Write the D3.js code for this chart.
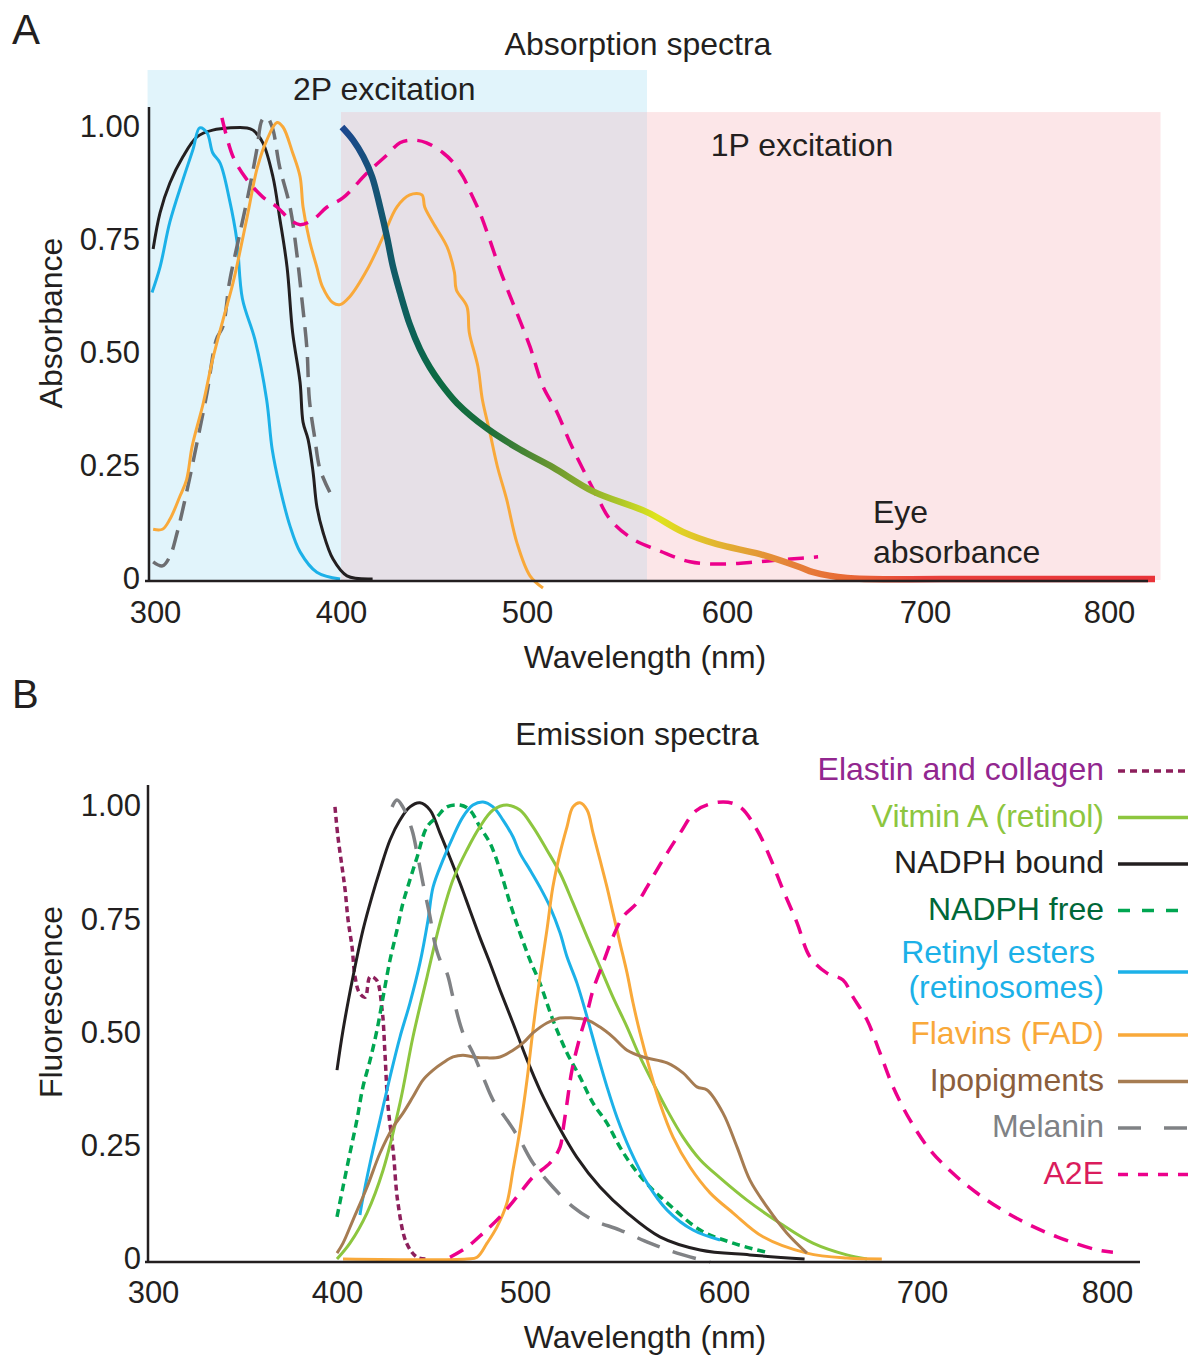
<!DOCTYPE html>
<html>
<head>
<meta charset="utf-8">
<script src="https://cdn.jsdelivr.net/npm/d3@7/dist/d3.min.js"></script>
<style>
body { margin: 0; background: #fff; }
text { font-family: "Liberation Sans", Arial, Helvetica, sans-serif; fill: #231f20; }
</style>
</head>
<body>
<div id="container"></div>
<script>
var w = 1199;
var h = 1357;

// ---- data (wavelength nm, value) ----
var ticksX = [300, 400, 500, 600, 700, 800];
var ticksY = [0, 0.25, 0.5, 0.75, 1];

// panel A regions: [from nm, to nm, top absorbance]
var region2P = [296, 560, 1.126];
var region1P = [560, 828, 1.033];
var regionBoth = [400, 560, 1.033];

var absNadph = [[299,0.73],[302.7,0.81],[308,0.876],[315,0.934],[322.6,0.978],[331,0.993],[349.5,0.998],[352.7,0.993],[358,0.965],[363.4,0.89],[367,0.80],[371,0.69],[374,0.545],[378,0.435],[379.6,0.347],[382.3,0.309],[385,0.236],[387,0.161],[390.3,0.104],[395.7,0.044],[403.2,0.007],[417,0]];
var absRetinol = [[298.4,0.634],[302.7,0.69],[308,0.79],[315,0.883],[320.4,0.95],[324,0.998],[328,0.987],[331,0.943],[335,0.92],[340,0.84],[344,0.75],[347,0.62],[353.7,0.53],[360,0.397],[363,0.287],[367,0.205],[372.6,0.117],[378,0.06],[387,0.015],[399.5,0]];
var absGray = [[299,0.038],[304,0.029],[308,0.05],[312,0.104],[317,0.192],[322.6,0.302],[328,0.413],[333,0.53],[336.6,0.56],[340,0.656],[345.7,0.766],[351,0.868],[355,0.956],[357.5,1.015],[360,1.022],[363,1.0],[367,0.912],[372.6,0.823],[376,0.728],[379,0.618],[381.7,0.508],[383,0.397],[386,0.309],[388.7,0.243],[394,0.192]];
var absFad = [[299,0.11],[304,0.11],[308,0.132],[313.4,0.183],[317,0.22],[320,0.294],[326,0.39],[331,0.486],[336.6,0.574],[342,0.656],[349.5,0.80],[355,0.91],[360,0.97],[365.6,1.01],[368.8,1.0],[374,0.943],[378,0.89],[379.6,0.823],[383,0.75],[387,0.69],[390,0.647],[395.7,0.611],[399.5,0.607],[404.8,0.625],[414,0.684],[422.6,0.757],[430,0.823],[437,0.85],[443.5,0.85],[445,0.823],[449.5,0.788],[457,0.735],[461,0.678],[462,0.64],[467.7,0.603],[469,0.545],[473.6,0.47],[476,0.397],[480,0.325],[484,0.25],[489,0.177],[494.6,0.08],[501.5,0.007],[508,-0.02]];
var absA2e = [[336,1.02],[342,0.934],[349.5,0.883],[358,0.845],[365.6,0.823],[372.6,0.795],[378,0.784],[385,0.795],[392.5,0.823],[401,0.843],[414,0.898],[424.7,0.938],[431.7,0.965],[438.7,0.971],[446,0.965],[454.8,0.943],[460,0.923],[465.6,0.89],[469,0.861],[474.7,0.81],[480,0.75],[485.5,0.684],[491,0.625],[496,0.574],[501.5,0.514],[508,0.426],[515,0.369],[521.5,0.302],[528,0.243],[535,0.183],[541.5,0.132],[553,0.088],[566.5,0.062],[581.5,0.038],[598,0.033],[615,0.038],[632,0.044],[646,0.049]];
var absEye = [[400.5,1.0],[406.5,0.971],[412,0.934],[416.7,0.89],[421,0.823],[424.7,0.757],[428,0.69],[431.7,0.634],[437,0.563],[442.5,0.508],[447.8,0.468],[453.2,0.435],[462.4,0.389],[478.5,0.333],[496,0.287],[513,0.247],[533,0.194],[560,0.148],[578,0.104],[595,0.077],[616.7,0.055],[636.9,0.026],[643.5,0.015],[660.7,0.002],[711.9,0],[825,0]];
var eyeStopNm = [400, 425, 450, 480, 515, 545, 565, 597, 632, 660, 700, 825];
var eyeStopColor = ["#1d4690", "#12586c", "#0a6a44", "#1c6e3a", "#6f9a2f", "#aac52a", "#dfe41d", "#e2b231", "#e5823a", "#e86a35", "#e9403b", "#e93339"];

var emElastin = [[398.9,0.998],[400.5,0.932],[402.7,0.865],[404.3,0.815],[405.9,0.748],[408,0.689],[409.6,0.623],[412,0.587],[415,0.578],[417.6,0.623],[421,0.616],[424,0.55],[425.5,0.455],[427,0.344],[430,0.234],[432.4,0.124],[437,0.035],[442.6,0.004],[448,0]];
var emRetinol = [[400,0],[406.9,0.035],[416,0.102],[424.5,0.196],[433.5,0.344],[440.4,0.49],[447.9,0.623],[454.8,0.742],[461.7,0.837],[469.1,0.903],[476,0.954],[483,0.991],[490.4,1.002],[497.3,0.991],[504,0.954],[511,0.903],[517.6,0.852],[524.1,0.786],[531.2,0.711],[537.7,0.645],[544.2,0.578],[551.3,0.512],[557.8,0.446],[564.3,0.389],[571.4,0.329],[579.4,0.269],[588,0.219],[598,0.179],[611.6,0.13],[628.3,0.079],[644.9,0.035],[662,0.009],[672.2,0]];
var emNadphBound = [[400,0.417],[403.2,0.505],[408.5,0.623],[413.8,0.726],[418.6,0.8],[422.9,0.859],[428.2,0.925],[433.5,0.969],[438.8,0.998],[444.1,1.007],[449.5,0.991],[454.8,0.94],[460,0.887],[465.4,0.83],[470.7,0.77],[476,0.71],[481.4,0.653],[486.7,0.594],[493.6,0.521],[501,0.44],[507.5,0.373],[516,0.3],[526,0.225],[537.7,0.159],[551.3,0.102],[567.8,0.049],[588,0.02],[613,0.009],[640.7,0]];
var emNadphFree = [[400,0.093],[403.2,0.159],[406.9,0.234],[410.6,0.307],[413.8,0.38],[417.6,0.439],[421.3,0.506],[424.5,0.578],[428.2,0.66],[431.9,0.726],[435.1,0.786],[438.8,0.837],[442.6,0.887],[447.9,0.954],[453.2,0.976],[458.5,0.998],[465.4,1.002],[470.7,0.991],[476,0.954],[481.4,0.918],[486.7,0.859],[492,0.786],[497.3,0.72],[502.5,0.66],[507.5,0.609],[514,0.528],[521.1,0.455],[527.6,0.402],[534.2,0.344],[541.2,0.3],[547.7,0.247],[554.3,0.203],[562.8,0.159],[571.4,0.124],[588,0.064],[604.6,0.035],[623.2,0.013]];
var emRetinylEsters = [[412.2,0.097],[413.3,0.124],[417.6,0.212],[422.9,0.307],[428.2,0.402],[433.5,0.49],[438.8,0.565],[444.1,0.653],[448.4,0.748],[451.1,0.821],[456.4,0.881],[461.7,0.932],[467,0.976],[472.3,1.002],[477.7,1.009],[483,0.998],[488.3,0.969],[493.6,0.932],[497.3,0.896],[502.5,0.859],[507.5,0.821],[512.6,0.777],[517.6,0.72],[521.1,0.667],[526.1,0.609],[531.2,0.534],[536.2,0.455],[541.2,0.38],[546.2,0.313],[552.8,0.241],[561.3,0.168],[571.4,0.108],[584.4,0.064],[598,0.042]];
var emFad = [[403.2,0],[469.1,0],[474.5,0.004],[479.8,0.035],[485.1,0.071],[490.4,0.124],[493.6,0.196],[497.3,0.285],[501,0.395],[504,0.506],[507.5,0.623],[511,0.726],[514,0.821],[517.6,0.896],[521.1,0.954],[524.1,0.998],[527.6,1.007],[531.2,0.991],[534.2,0.94],[537.7,0.881],[541.2,0.821],[544.2,0.764],[547.7,0.698],[551.3,0.631],[554.3,0.565],[557.8,0.499],[562.8,0.417],[567.8,0.344],[574.4,0.269],[582.9,0.203],[593,0.146],[604.5,0.102],[619.7,0.049],[641.9,0.013],[662,0.002],[679.7,0]];
var emLipo = [[400,0.013],[403.2,0.035],[408.5,0.086],[416,0.159],[422.9,0.234],[429.8,0.291],[435.1,0.322],[440.4,0.358],[445.7,0.395],[451.1,0.417],[456.4,0.433],[461.7,0.446],[467,0.45],[472.3,0.446],[479.8,0.444],[486.7,0.446],[493.6,0.461],[499,0.477],[504,0.499],[511,0.521],[517.6,0.532],[524.1,0.532],[531.2,0.528],[537.7,0.512],[544.2,0.49],[551.3,0.461],[559.3,0.446],[571.4,0.433],[579.4,0.411],[586.4,0.38],[591.5,0.373],[599.5,0.322],[606.6,0.247],[613.1,0.174],[621.7,0.115],[631.8,0.057],[641.9,0.013]];
var emMelanin = [[429.3,0.998],[431.9,1.013],[435,0.998],[439.9,0.947],[442.6,0.896],[445.7,0.83],[449.5,0.755],[452,0.698],[454.8,0.66],[458.5,0.631],[461.7,0.578],[467,0.499],[472.3,0.455],[477.7,0.402],[483,0.351],[490.4,0.307],[497.3,0.263],[504,0.212],[514,0.159],[524.1,0.115],[534.2,0.086],[547.7,0.064],[562.8,0.035],[576.4,0.013],[593,-0.007]];
var emA2e = [[460.1,0.004],[469.1,0.026],[477.7,0.057],[486.7,0.093],[495.7,0.137],[504,0.181],[512.6,0.212],[517.6,0.247],[519.1,0.285],[521.1,0.344],[523.6,0.417],[527.6,0.49],[531.2,0.543],[534.2,0.594],[539.2,0.653],[544.2,0.711],[549.2,0.755],[556.3,0.786],[561.3,0.821],[566.3,0.859],[571.4,0.896],[577.9,0.94],[586.4,0.991],[599.5,1.009],[608.1,0.998],[616.7,0.947],[623.2,0.887],[629.8,0.815],[636.9,0.742],[643.4,0.667],[652,0.631],[660.1,0.616],[665.2,0.578],[672.2,0.528],[678.8,0.455],[685.4,0.38],[693.9,0.307],[704.3,0.241],[718.9,0.181],[735.1,0.13],[753,0.086],[773,0.049],[794.6,0.02],[803.2,0.015]];

var legendLabels = [["Elastin and collagen"], ["Vitmin A (retinol)"], ["NADPH bound"], ["NADPH free"], ["Retinyl esters", "(retinosomes)"], ["Flavins (FAD)"], ["Ipopigments"], ["Melanin"], ["A2E"]];

// ---- svg ----
var svg = d3.select("div#container").append("svg")
    .attr("width", w).attr("height", h)
    .style("background-color", "white");

var defs = svg.append("defs");

// scales (the figure's tick labels are not evenly spaced, so piecewise)
var xA = d3.scaleLinear().domain(ticksX).range([155, 341, 527, 727, 925, 1109]);
var yA = d3.scaleLinear().domain([0, 1]).range([579, 127]);
var xB = d3.scaleLinear().domain(ticksX).range([153, 337, 525, 724, 922, 1107]);
var yB = d3.scaleLinear().domain([0, 1]).range([1259, 806]);

var fmt = function(d) { return d === 0 ? "0" : d3.format(".2f")(d); };

function lineFor(x, y) {
  return d3.line()
    .x(function(d) { return x(d[0]); })
    .y(function(d) { return y(d[1]); })
    .curve(d3.curveCatmullRom.alpha(0.5));
}

// ================= PANEL A =================
var gA = svg.append("g");

function region(r, fill) {
  gA.append("rect")
    .attr("x", xA(r[0])).attr("y", yA(r[2]))
    .attr("width", xA(r[1]) - xA(r[0]))
    .attr("height", yA(0) + 1 - yA(r[2]))
    .attr("fill", fill);
}
region(region2P, "#e1f4fb");
region(region1P, "#fce6e8");
region(regionBoth, "#e6e0e7");

var lA = lineFor(xA, yA);

var seriesA = [
  { data: absNadph, color: "#231f20", width: 3, dash: null },
  { data: absRetinol, color: "#1cb1e8", width: 3, dash: null },
  { data: absGray, color: "#6d6e71", width: 3.5, dash: "20,10" },
  { data: absFad, color: "#f9a93a", width: 3, dash: null },
  { data: absA2e, color: "#ec008c", width: 3.5, dash: "16,10" }
];

gA.selectAll("path.curve")
  .data(seriesA)
  .enter().append("path")
    .attr("class", "curve")
    .attr("d", function(d) { return lA(d.data); })
    .attr("fill", "none")
    .attr("stroke", function(d) { return d.color; })
    .attr("stroke-width", function(d) { return d.width; })
    .attr("stroke-dasharray", function(d) { return d.dash; });

var grad = defs.append("linearGradient")
    .attr("id", "eyeGrad")
    .attr("gradientUnits", "userSpaceOnUse")
    .attr("x1", xA(400)).attr("x2", xA(825))
    .attr("y1", 0).attr("y2", 0);
grad.selectAll("stop")
  .data(eyeStopNm)
  .enter().append("stop")
    .attr("offset", function(d) { return (xA(d) - xA(400)) / (xA(825) - xA(400)); })
    .attr("stop-color", function(d, i) { return eyeStopColor[i]; });

gA.append("path")
    .attr("d", lA(absEye))
    .attr("fill", "none")
    .attr("stroke", "url(#eyeGrad)")
    .attr("stroke-width", 6.5);

// axes A
gA.append("line").attr("x1", 149).attr("x2", 149).attr("y1", 107).attr("y2", 582)
    .attr("stroke", "#231f20").attr("stroke-width", 2.5);
gA.append("line").attr("x1", 145).attr("x2", 1148).attr("y1", 581).attr("y2", 581)
    .attr("stroke", "#231f20").attr("stroke-width", 2.5);

gA.append("g")
    .attr("transform", "translate(0,581)")
    .call(d3.axisBottom(xA).tickValues(ticksX).tickSize(0).tickPadding(20))
    .call(function(g) { g.select(".domain").remove(); });
gA.append("g")
    .attr("transform", "translate(149,0)")
    .call(d3.axisLeft(yA).tickValues(ticksY).tickFormat(fmt).tickSize(0).tickPadding(9))
    .call(function(g) { g.select(".domain").remove(); });

gA.append("text").attr("x", 12).attr("y", 44).attr("font-size", 42).text("A");
gA.append("text").attr("x", 638).attr("y", 55).attr("text-anchor", "middle").attr("font-size", 32).text("Absorption spectra");
gA.append("text").attr("x", 293).attr("y", 100).attr("font-size", 32).text("2P excitation");
gA.append("text").attr("x", 802).attr("y", 156).attr("text-anchor", "middle").attr("font-size", 32).text("1P excitation");
gA.append("text").attr("x", 873).attr("y", 523).attr("font-size", 32).text("Eye");
gA.append("text").attr("x", 873).attr("y", 563).attr("font-size", 32).text("absorbance");
gA.append("text").attr("x", 645).attr("y", 668).attr("text-anchor", "middle").attr("font-size", 32).text("Wavelength (nm)");
gA.append("text").attr("transform", "translate(62,323) rotate(-90)").attr("text-anchor", "middle").attr("font-size", 32).text("Absorbance");

// ================= PANEL B =================
var gB = svg.append("g");
var lB = lineFor(xB, yB);

var seriesB = [
  { data: emElastin, color: "#8d1f5c", text: "#92278f", width: 3.5, dash: "6,4", legDash: "7,5" },
  { data: emRetinol, color: "#8dc63f", text: "#8dc63f", width: 3, dash: null, legDash: null },
  { data: emNadphBound, color: "#231f20", text: "#231f20", width: 3, dash: null, legDash: null },
  { data: emNadphFree, color: "#00a651", text: "#006838", width: 3.5, dash: "8,5", legDash: "12,12" },
  { data: emRetinylEsters, color: "#1cb1e8", text: "#1cb1e8", width: 3, dash: null, legDash: null },
  { data: emFad, color: "#f9a93a", text: "#f9a93a", width: 3, dash: null, legDash: null },
  { data: emLipo, color: "#a67c52", text: "#8b5e3c", width: 3, dash: null, legDash: null },
  { data: emMelanin, color: "#808285", text: "#808285", width: 3.5, dash: "24,14", legDash: "23,23" },
  { data: emA2e, color: "#ec008c", text: "#da1c5c", width: 3.5, dash: "15,10", legDash: "10,10" }
];
seriesB.forEach(function(s, i) { s.label = legendLabels[i]; });

var drawOrder = [0, 2, 3, 4, 1, 5, 6, 7, 8];
gB.selectAll("path.curve")
  .data(drawOrder.map(function(i) { return seriesB[i]; }))
  .enter().append("path")
    .attr("class", "curve")
    .attr("d", function(d) { return lB(d.data); })
    .attr("fill", "none")
    .attr("stroke", function(d) { return d.color; })
    .attr("stroke-width", function(d) { return d.width; })
    .attr("stroke-dasharray", function(d) { return d.dash; });

// axes B
gB.append("line").attr("x1", 148).attr("x2", 148).attr("y1", 785).attr("y2", 1263)
    .attr("stroke", "#231f20").attr("stroke-width", 2.5);
gB.append("line").attr("x1", 145).attr("x2", 1140).attr("y1", 1262).attr("y2", 1262)
    .attr("stroke", "#231f20").attr("stroke-width", 2.5);

gB.append("g")
    .attr("transform", "translate(0,1262)")
    .call(d3.axisBottom(xB).tickValues(ticksX).tickSize(0).tickPadding(19))
    .call(function(g) { g.select(".domain").remove(); });
gB.append("g")
    .attr("transform", "translate(148,0)")
    .call(d3.axisLeft(yB).tickValues(ticksY).tickFormat(fmt).tickSize(0).tickPadding(7))
    .call(function(g) { g.select(".domain").remove(); });

svg.selectAll(".tick text")
    .attr("font-size", 31)
    .attr("font-family", "Liberation Sans, Arial, sans-serif")
    .attr("fill", "#231f20");

gB.append("text").attr("x", 12).attr("y", 708).attr("font-size", 40).text("B");
gB.append("text").attr("x", 637).attr("y", 745).attr("text-anchor", "middle").attr("font-size", 32).text("Emission spectra");
gB.append("text").attr("x", 645).attr("y", 1348).attr("text-anchor", "middle").attr("font-size", 32).text("Wavelength (nm)");
gB.append("text").attr("transform", "translate(62,1002) rotate(-90)").attr("text-anchor", "middle").attr("font-size", 32).text("Fluorescence");

// legend
var legY = 771;
var leg = gB.append("g");
seriesB.forEach(function(s, i) {
  var two = s.label.length > 1;
  var yLine = two ? legY + 15 : legY;
  leg.append("line")
    .attr("x1", 1118).attr("x2", 1188)
    .attr("y1", yLine).attr("y2", yLine)
    .attr("stroke", s.color)
    .attr("stroke-width", 3.5)
    .attr("stroke-dasharray", s.legDash);
  s.label.forEach(function(t, j) {
    leg.append("text")
      .attr("x", j === 0 && two ? 1095 : 1104)
      .attr("y", two ? legY + 6 + j * 35 : legY + 9)
      .attr("text-anchor", "end")
      .attr("font-size", 32)
      .style("fill", s.text)
      .text(t);
  });
  legY += two ? 78 : 46.5;
});
</script>
</body>
</html>
